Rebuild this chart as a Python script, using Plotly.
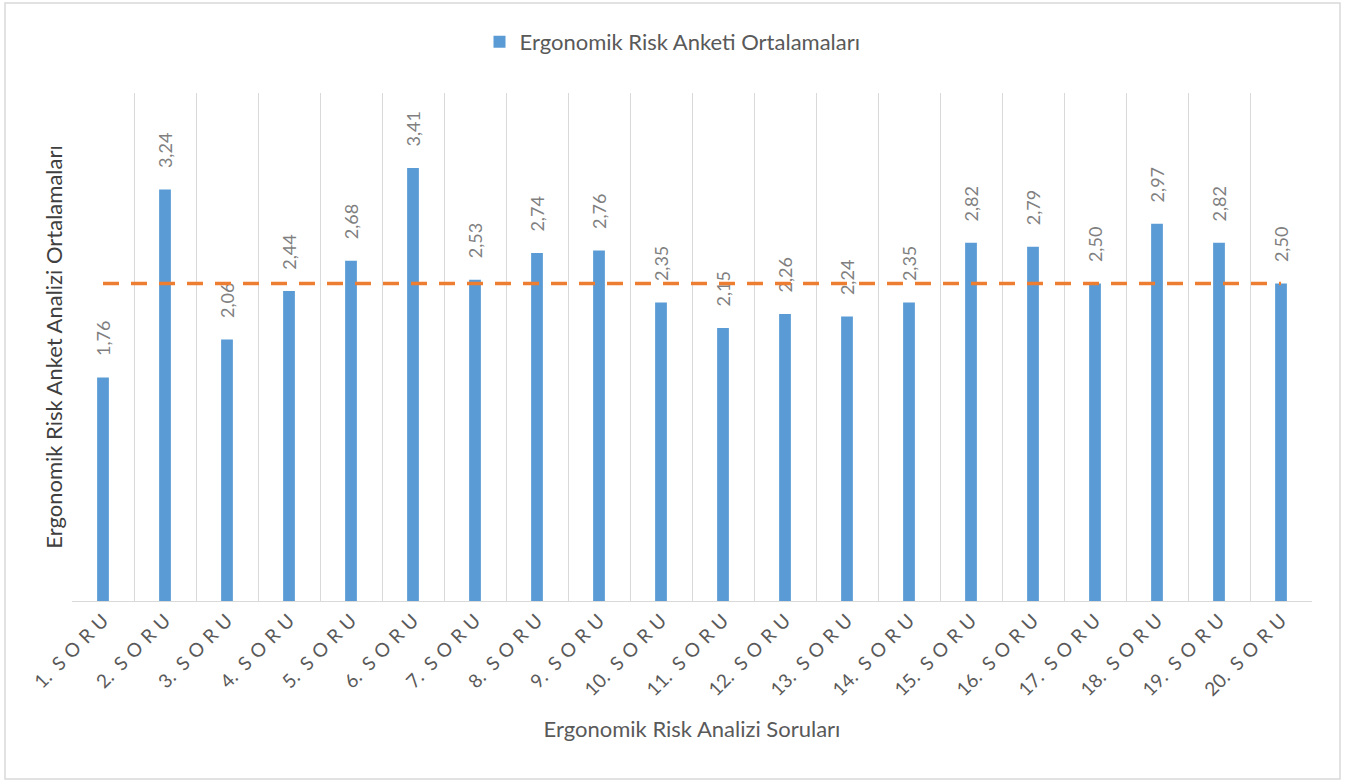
import plotly.graph_objects as go

categories = [f"{i}. SORU" for i in range(1, 21)]
values = [1.76, 3.24, 2.06, 2.44, 2.68, 3.41, 2.53, 2.74, 2.76, 2.35,
          2.15, 2.26, 2.24, 2.35, 2.82, 2.79, 2.50, 2.97, 2.82, 2.50]
reference_level = 2.50
series_name = "Ergonomik Risk Anketi Ortalamaları"
x_title = "Ergonomik Risk Analizi Soruları"
y_title = "Ergonomik Risk Anket Analizi Ortalamaları"

FONT = "Lato"
W, H = 1345, 782
ML, MR, MT, MB = 72, 33, 93, 181


def spaced(label):
    # letter-spaced rendering of the tick label (style only)
    num, word = label.split(". ")
    return f"{num}.\u2005 " + "\u2004".join(word)


tick_text = [spaced(c) for c in categories]

fig = go.Figure()
fig.add_trace(go.Bar(
    x=categories, y=values, name=series_name,
    marker=dict(color="#5B9BD5", line=dict(width=0)),
    texttemplate="\u00a0\u00a0\u00a0\u00a0%{y:.2f}", textposition="outside", textangle=-90,
    constraintext="none",
    textfont=dict(family=FONT, size=18, color="#7F7F7F"),
    cliponaxis=False,
))
fig.add_trace(go.Scatter(
    x=categories, y=[reference_level] * len(categories), mode="lines",
    line=dict(color="#ED7D31", width=3.5, dash="16px,12px"),
    showlegend=False, hoverinfo="skip",
))

pw, ph = W - ML - MR, H - MT - MB
fig.add_shape(type="rect", xref="paper", yref="paper",
              x0=(5 - ML) / pw, x1=(1340 - ML) / pw,
              y0=(H - MB - 779) / ph, y1=(H - MB - 3) / ph,
              line=dict(color="#D9D9D9", width=1.5), layer="below")

fig.update_layout(
    width=W, height=H,
    margin=dict(l=ML, r=MR, t=MT, b=MB, autoexpand=False),
    paper_bgcolor="white", plot_bgcolor="white",
    separators=",.",
    bargap=0.81,
    font=dict(family=FONT, color="#595959"),
    showlegend=True,
    legend=dict(orientation="h", x=0.5, xanchor="center", xref="container",
                y=1 - 42 / H, yanchor="middle", yref="container", itemwidth=30,
                font=dict(family=FONT, size=22, color="#595959")),
    xaxis=dict(
        type="category", tickson="boundaries", showgrid=True,
        gridcolor="#D9D9D9", gridwidth=1,
        showline=True, linecolor="#D9D9D9", linewidth=1,
        ticks="", tickangle=-45,
        tickvals=categories, ticktext=tick_text,
        tickfont=dict(family=FONT, size=19, color="#595959"),
        title=dict(text=x_title, font=dict(family=FONT, size=22, color="#595959"), standoff=22),
        automargin=False,
    ),
    yaxis=dict(
        range=[0, 4], showgrid=False, zeroline=False, showticklabels=False,
        showline=False, ticks="",
        title=dict(text=y_title, font=dict(family=FONT, size=22, color="#404040"), standoff=2),
        automargin=False,
    ),
)

fig.write_html("out.html")
